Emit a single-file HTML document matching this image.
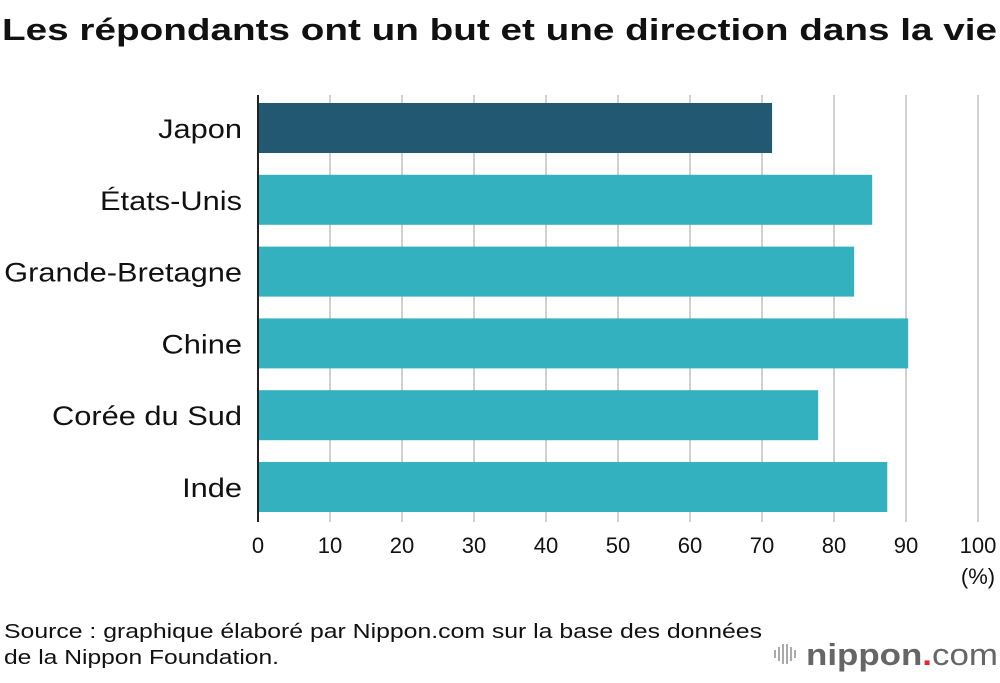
<!DOCTYPE html>
<html><head><meta charset="utf-8"><style>
body{margin:0;width:1000px;height:678px;background:#fff;font-family:"Liberation Sans",sans-serif;overflow:hidden}
</style></head><body>
<svg width="1000" height="678" viewBox="0 0 1000 678">
<text x="2" y="40" font-size="31" font-weight="bold" fill="#111" textLength="995" lengthAdjust="spacingAndGlyphs">Les répondants ont un but et une direction dans la vie</text>
<g id="grid"></g><g id="bars"></g><g id="labels"></g><g id="ticks"></g>
<line x1="258" y1="95" x2="258" y2="522" stroke="#222" stroke-width="2"/>
<text x="978" y="584" font-size="22" text-anchor="middle" fill="#111">(%)</text>
<text x="4" y="638" font-size="20" fill="#111" textLength="758" lengthAdjust="spacingAndGlyphs">Source : graphique élaboré par Nippon.com sur la base des données</text>
<text x="4" y="664" font-size="20" fill="#111" textLength="275" lengthAdjust="spacingAndGlyphs">de la Nippon Foundation.</text>
<g>
<g fill="#aaa"><rect x="774" y="650" width="2" height="8"/><rect x="778" y="647" width="2" height="14"/><rect x="782" y="644" width="2" height="20"/><rect x="786" y="644" width="2" height="20"/><rect x="790" y="647" width="2" height="14"/><rect x="794" y="650" width="2" height="8"/></g>
<text x="806" y="665" font-size="31" fill="#666" font-weight="bold" textLength="192" lengthAdjust="spacingAndGlyphs">nippon<tspan fill="#e8262a">.</tspan><tspan font-weight="normal">com</tspan></text>
</g>
</svg>
<script>
const categories=["Japon","États-Unis","Grande-Bretagne","Chine","Corée du Sud","Inde"];
const values=[71.4,85.3,82.8,90.3,77.8,87.4];
const colors=["#235873","#33b1bf","#33b1bf","#33b1bf","#33b1bf","#33b1bf"];
const ticks=[0,10,20,30,40,50,60,70,80,90,100];
const ns="http://www.w3.org/2000/svg";
const x=v=>258+v*7.2;
const y=i=>103+i*71.8;
function mk(t,a,p){const e=document.createElementNS(ns,t);for(const k in a)e.setAttribute(k,a[k]);document.getElementById(p).appendChild(e);return e;}
ticks.forEach(t=>{
 if(t>0){const g=mk("line",{x1:x(t),x2:x(t),y1:95,y2:522,stroke:"#d0d0d0","stroke-width":2},"grid");
 
 }
 const l=mk("text",{x:x(t),y:553,"font-size":22,"text-anchor":"middle",fill:"#111"},"ticks");
 l.textContent=t;
 
 
});
categories.forEach((c,i)=>{
 const b=mk("rect",{x:x(0),y:y(i),width:x(values[i])-x(0),height:50,fill:colors[i]},"bars");
 
 
 const l=mk("text",{x:242,y:y(i)+35,"font-size":27,"text-anchor":"end",fill:"#111"},"labels");
 l.textContent=c;
 
 
 const w=l.getComputedTextLength();
 l.setAttribute("textLength",w*1.14);
 l.setAttribute("lengthAdjust","spacingAndGlyphs");
});
</script>
</body></html>
